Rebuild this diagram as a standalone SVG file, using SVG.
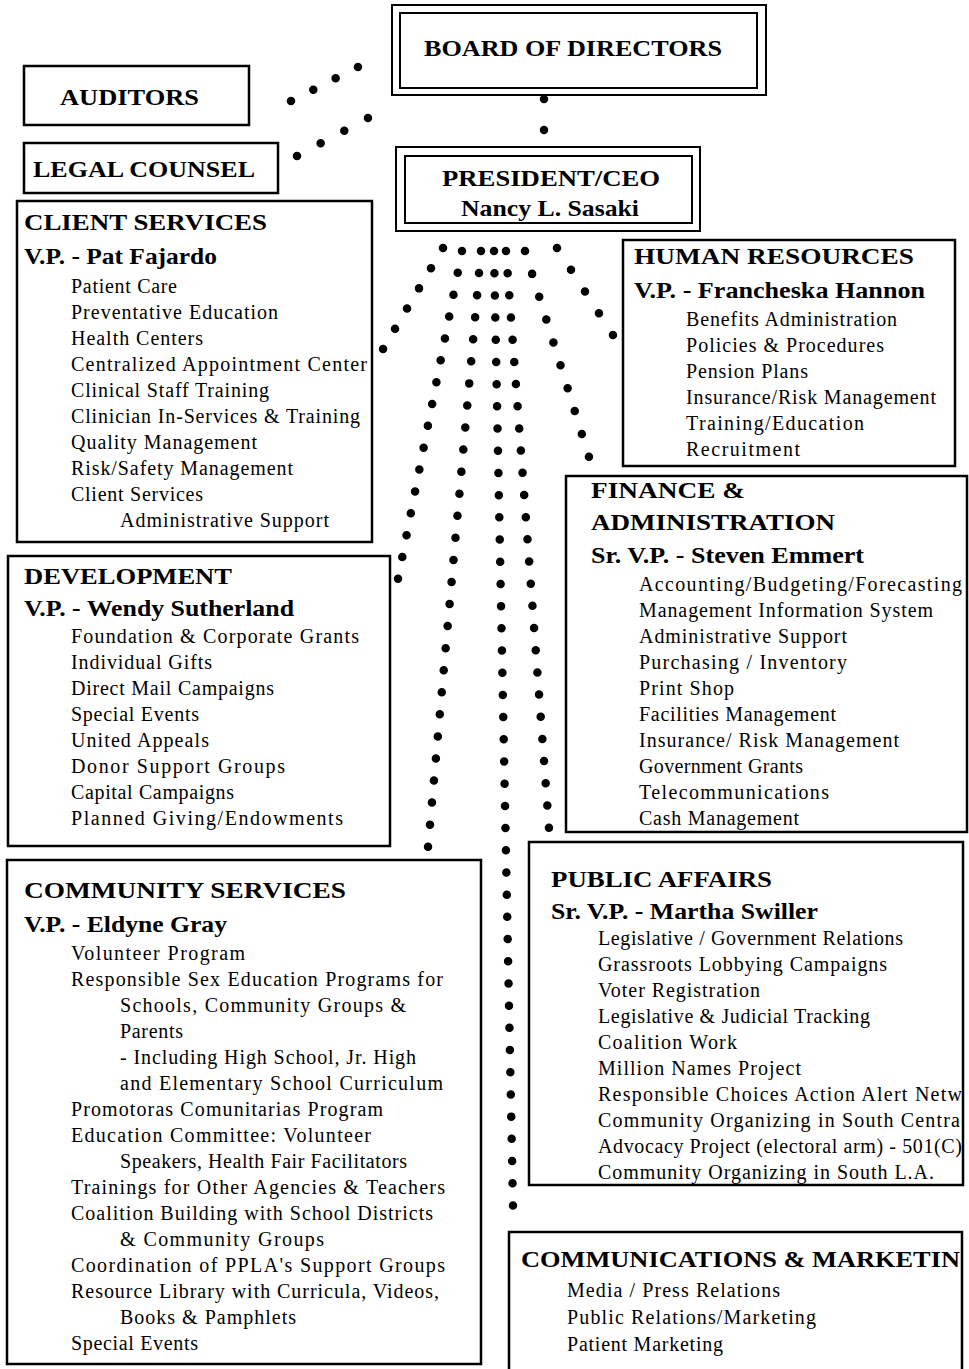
<svg xmlns="http://www.w3.org/2000/svg" width="969" height="1369" viewBox="0 0 969 1369">
<style>
.box{fill:none;stroke:#000;stroke-width:2.5}
.thin{fill:none;stroke:#000;stroke-width:2}
.t{font-family:"Liberation Serif",serif;font-weight:bold;font-size:24px;fill:#000}
.i{font-family:"Liberation Serif",serif;font-size:20px;fill:#000}
.dots{fill:none;stroke:#000;stroke-width:8.5;stroke-linecap:round}
</style>
<rect x="0" y="0" width="969" height="1369" fill="#fff"/>

<g id="connectors">
<path class="dots" d="M291,101 L358,67" stroke-dasharray="0 25.03"/>
<path class="dots" d="M297,156 L368,118" stroke-dasharray="0 26.83"/>
<path class="dots" d="M544,99 L544,130" stroke-dasharray="0 30.99"/>
<path class="dots" d="M443,248 L383,349" stroke-dasharray="0 23.48"/>
<path class="dots" d="M462,251 L398,579" stroke-dasharray="0 22.27"/>
<path class="dots" d="M481,251 L428,847" stroke-dasharray="0 22.15"/>
<path class="dots" d="M494,251 L513,1206" stroke-dasharray="0 22.2"/>
<path class="dots" d="M506,251 L549,828" stroke-dasharray="0 22.24"/>
<path class="dots" d="M525,251 L589,457" stroke-dasharray="0 23.95"/>
<path class="dots" d="M557,248 L613,335" stroke-dasharray="0 25.85"/>
</g>

<g id="board">
<rect class="thin" x="392" y="5" width="374" height="90"/>
<rect class="thin" x="400" y="13" width="357" height="75"/>
<text class="t" x="424" y="56" textLength="298" lengthAdjust="spacingAndGlyphs">BOARD OF DIRECTORS</text>
</g>

<g id="auditors">
<rect class="box" x="24" y="66" width="225" height="59"/>
<text class="t" x="60" y="105" textLength="139" lengthAdjust="spacingAndGlyphs">AUDITORS</text>
</g>

<g id="legal">
<rect class="box" x="24" y="143" width="254" height="50"/>
<text class="t" x="33" y="177" textLength="222" lengthAdjust="spacingAndGlyphs">LEGAL COUNSEL</text>
</g>

<g id="president">
<rect class="thin" x="396" y="147" width="304" height="84"/>
<rect class="thin" x="405" y="156" width="287" height="67"/>
<text class="t" x="442" y="186" textLength="218" lengthAdjust="spacingAndGlyphs">PRESIDENT/CEO</text>
<text class="t" x="461" y="216" textLength="178" lengthAdjust="spacingAndGlyphs">Nancy L. Sasaki</text>
</g>

<g id="client-services">
<rect class="box" x="17" y="201" width="355" height="341"/>
<text class="t" x="24" y="230" textLength="243" lengthAdjust="spacingAndGlyphs">CLIENT SERVICES</text>
<text class="t" x="24" y="264" textLength="193" lengthAdjust="spacingAndGlyphs">V.P. - Pat Fajardo</text>
<text class="i" x="71" y="293" textLength="106" lengthAdjust="spacing">Patient Care</text>
<text class="i" x="71" y="319" textLength="207" lengthAdjust="spacing">Preventative Education</text>
<text class="i" x="71" y="345" textLength="132" lengthAdjust="spacing">Health Centers</text>
<text class="i" x="71" y="371" textLength="296" lengthAdjust="spacing">Centralized Appointment Center</text>
<text class="i" x="71" y="397" textLength="198" lengthAdjust="spacing">Clinical Staff Training</text>
<text class="i" x="71" y="423" textLength="289" lengthAdjust="spacing">Clinician In-Services &amp; Training</text>
<text class="i" x="71" y="449" textLength="186" lengthAdjust="spacing">Quality Management</text>
<text class="i" x="71" y="475" textLength="222" lengthAdjust="spacing">Risk/Safety Management</text>
<text class="i" x="71" y="501" textLength="132" lengthAdjust="spacing">Client Services</text>
<text class="i" x="120" y="527" textLength="209" lengthAdjust="spacing">Administrative Support</text>
</g>

<g id="human-resources">
<rect class="box" x="623" y="240" width="332" height="226"/>
<text class="t" x="634" y="264" textLength="280" lengthAdjust="spacingAndGlyphs">HUMAN RESOURCES</text>
<text class="t" x="634" y="298" textLength="291" lengthAdjust="spacingAndGlyphs">V.P. - Francheska Hannon</text>
<text class="i" x="686" y="326" textLength="211" lengthAdjust="spacing">Benefits Administration</text>
<text class="i" x="686" y="352" textLength="198" lengthAdjust="spacing">Policies &amp; Procedures</text>
<text class="i" x="686" y="378" textLength="122" lengthAdjust="spacing">Pension Plans</text>
<text class="i" x="686" y="404" textLength="250" lengthAdjust="spacing">Insurance/Risk Management</text>
<text class="i" x="686" y="430" textLength="178" lengthAdjust="spacing">Training/Education</text>
<text class="i" x="686" y="456" textLength="114" lengthAdjust="spacing">Recruitment</text>
</g>

<g id="finance">
<rect class="box" x="566" y="476" width="401" height="356"/>
<text class="t" x="591" y="498" textLength="154" lengthAdjust="spacingAndGlyphs">FINANCE &amp;</text>
<text class="t" x="591" y="530" textLength="244" lengthAdjust="spacingAndGlyphs">ADMINISTRATION</text>
<text class="t" x="591" y="563" textLength="273" lengthAdjust="spacingAndGlyphs">Sr. V.P. - Steven Emmert</text>
<text class="i" x="639" y="591" textLength="323" lengthAdjust="spacing">Accounting/Budgeting/Forecasting</text>
<text class="i" x="639" y="617" textLength="294" lengthAdjust="spacing">Management Information System</text>
<text class="i" x="639" y="643" textLength="208" lengthAdjust="spacing">Administrative Support</text>
<text class="i" x="639" y="669" textLength="208" lengthAdjust="spacing">Purchasing / Inventory</text>
<text class="i" x="639" y="695" textLength="95" lengthAdjust="spacing">Print Shop</text>
<text class="i" x="639" y="721" textLength="197" lengthAdjust="spacing">Facilities Management</text>
<text class="i" x="639" y="747" textLength="260" lengthAdjust="spacing">Insurance/ Risk Management</text>
<text class="i" x="639" y="773" textLength="164" lengthAdjust="spacing">Government Grants</text>
<text class="i" x="639" y="799" textLength="190" lengthAdjust="spacing">Telecommunications</text>
<text class="i" x="639" y="825" textLength="160" lengthAdjust="spacing">Cash Management</text>
</g>

<g id="development">
<rect class="box" x="8" y="556" width="382" height="290"/>
<text class="t" x="24" y="584" textLength="208" lengthAdjust="spacingAndGlyphs">DEVELOPMENT</text>
<text class="t" x="24" y="616" textLength="270" lengthAdjust="spacingAndGlyphs">V.P. - Wendy Sutherland</text>
<text class="i" x="71" y="643" textLength="288" lengthAdjust="spacing">Foundation &amp; Corporate Grants</text>
<text class="i" x="71" y="669" textLength="141" lengthAdjust="spacing">Individual Gifts</text>
<text class="i" x="71" y="695" textLength="203" lengthAdjust="spacing">Direct Mail Campaigns</text>
<text class="i" x="71" y="721" textLength="128" lengthAdjust="spacing">Special Events</text>
<text class="i" x="71" y="747" textLength="138" lengthAdjust="spacing">United Appeals</text>
<text class="i" x="71" y="773" textLength="214" lengthAdjust="spacing">Donor Support Groups</text>
<text class="i" x="71" y="799" textLength="163" lengthAdjust="spacing">Capital Campaigns</text>
<text class="i" x="71" y="825" textLength="272" lengthAdjust="spacing">Planned Giving/Endowments</text>
</g>

<g id="community-services">
<rect class="box" x="7" y="860" width="474" height="504"/>
<text class="t" x="24" y="898" textLength="322" lengthAdjust="spacingAndGlyphs">COMMUNITY SERVICES</text>
<text class="t" x="24" y="932" textLength="203" lengthAdjust="spacingAndGlyphs">V.P. - Eldyne Gray</text>
<text class="i" x="71" y="960" textLength="174" lengthAdjust="spacing">Volunteer Program</text>
<text class="i" x="71" y="986" textLength="372" lengthAdjust="spacing">Responsible Sex Education Programs for</text>
<text class="i" x="120" y="1012" textLength="286" lengthAdjust="spacing">Schools, Community Groups &amp;</text>
<text class="i" x="120" y="1038" textLength="63" lengthAdjust="spacing">Parents</text>
<text class="i" x="120" y="1064" textLength="296" lengthAdjust="spacing">- Including High School, Jr. High</text>
<text class="i" x="120" y="1090" textLength="323" lengthAdjust="spacing">and Elementary School Curriculum</text>
<text class="i" x="71" y="1116" textLength="312" lengthAdjust="spacing">Promotoras Comunitarias Program</text>
<text class="i" x="71" y="1142" textLength="300" lengthAdjust="spacing">Education Committee: Volunteer</text>
<text class="i" x="120" y="1168" textLength="287" lengthAdjust="spacing">Speakers, Health Fair Facilitators</text>
<text class="i" x="71" y="1194" textLength="374" lengthAdjust="spacing">Trainings for Other Agencies &amp; Teachers</text>
<text class="i" x="71" y="1220" textLength="362" lengthAdjust="spacing">Coalition Building with School Districts</text>
<text class="i" x="120" y="1246" textLength="204" lengthAdjust="spacing">&amp; Community Groups</text>
<text class="i" x="71" y="1272" textLength="374" lengthAdjust="spacing">Coordination of  PPLA's Support Groups</text>
<text class="i" x="71" y="1298" textLength="368" lengthAdjust="spacing">Resource Library with Curricula, Videos,</text>
<text class="i" x="120" y="1324" textLength="176" lengthAdjust="spacing">Books &amp; Pamphlets</text>
<text class="i" x="71" y="1350" textLength="127" lengthAdjust="spacing">Special Events</text>
</g>

<g id="public-affairs">
<rect class="box" x="529" y="842" width="434" height="343"/>
<text class="t" x="551" y="887" textLength="221" lengthAdjust="spacingAndGlyphs">PUBLIC AFFAIRS</text>
<text class="t" x="551" y="919" textLength="267" lengthAdjust="spacingAndGlyphs">Sr. V.P. - Martha Swiller</text>
<text class="i" x="598" y="945" textLength="305" lengthAdjust="spacing">Legislative / Government Relations</text>
<text class="i" x="598" y="971" textLength="289" lengthAdjust="spacing">Grassroots Lobbying Campaigns</text>
<text class="i" x="598" y="997" textLength="162" lengthAdjust="spacing">Voter Registration</text>
<text class="i" x="598" y="1023" textLength="272" lengthAdjust="spacing">Legislative &amp; Judicial Tracking</text>
<text class="i" x="598" y="1049" textLength="139" lengthAdjust="spacing">Coalition Work</text>
<text class="i" x="598" y="1075" textLength="203" lengthAdjust="spacing">Million Names Project</text>
<text class="i" x="598" y="1101" textLength="364" lengthAdjust="spacing">Responsible Choices Action Alert Netw</text>
<text class="i" x="598" y="1127" textLength="362" lengthAdjust="spacing">Community Organizing in South Centra</text>
<text class="i" x="598" y="1153" textLength="364" lengthAdjust="spacing">Advocacy Project (electoral arm) - 501(C)</text>
<text class="i" x="598" y="1179" textLength="336" lengthAdjust="spacing">Community Organizing in South L.A.</text>
</g>

<g id="communications">
<path class="box" d="M509,1372 V1232 H962 V1372"/>
<text class="t" x="521" y="1267" textLength="439" lengthAdjust="spacingAndGlyphs">COMMUNICATIONS &amp; MARKETIN</text>
<text class="i" x="567" y="1297" textLength="213" lengthAdjust="spacing">Media / Press Relations</text>
<text class="i" x="567" y="1324" textLength="249" lengthAdjust="spacing">Public Relations/Marketing</text>
<text class="i" x="567" y="1351" textLength="156" lengthAdjust="spacing">Patient Marketing</text>
</g>
</svg>
